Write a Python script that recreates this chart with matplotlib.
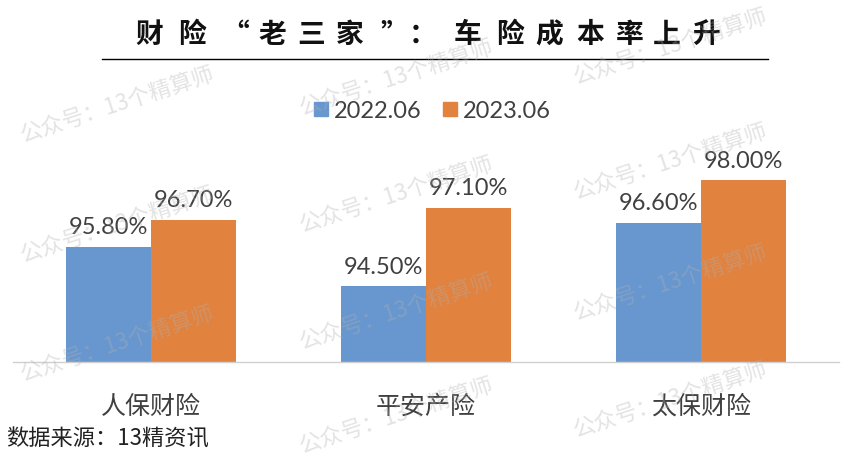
import matplotlib
matplotlib.use("Agg")
import matplotlib.pyplot as plt
from matplotlib.lines import Line2D
import numpy as np

plt.rcParams['font.family'] = ['Lato', 'Noto Sans CJK SC', 'DejaVu Sans']

# ---- data ----
categories = ['人保财险', '平安产险', '太保财险']
series_names = ['2022.06', '2023.06']
values_2022 = [95.8, 94.5, 96.6]
values_2023 = [96.7, 97.1, 98.0]
title_text = '财险“老三家”：车险成本率上升'
source_text = '数据来源：13精资讯'
watermark_text = '公众号：13个精算师'

BLUE = '#6897CF'
ORANGE = '#E1823F'
W, H = 856, 464

fig = plt.figure(figsize=(W / 100, H / 100), dpi=100)
fig.patch.set_facecolor('white')

def fx(px):
    return px / W

def fy(py):
    return 1 - py / H

# axes area: x 13..839 px, bottom at 363 px, top at 151 px
ax = fig.add_axes([fx(13), fy(363), fx(839) - fx(13), fy(151) - fy(363)])
x = np.arange(len(categories))
bw = 0.309
b1 = ax.bar(x - bw / 2, values_2022, bw, color=BLUE, zorder=2)
b2 = ax.bar(x + bw / 2, values_2023, bw, color=ORANGE, zorder=2)
ax.set_ylim(92, 99)
ax.set_xlim(-0.5, 2.5)
for s in ['top', 'left', 'right']:
    ax.spines[s].set_visible(False)
ax.spines['bottom'].set_color('#D0D0D0')
ax.spines['bottom'].set_linewidth(1.0)
ax.set_yticks([])
ax.set_xticks(x)
ax.set_xticklabels(categories, fontsize=18, color='#404040',
                   family=['Noto Sans CJK SC', 'DejaVu Sans'])
ax.tick_params(axis='x', length=0, pad=22)

for bars, vals in ((b1, values_2022), (b2, values_2023)):
    ax.bar_label(bars, labels=[f'{v:.2f}%' for v in vals], padding=7,
                 fontsize=17, color='#404040', family=['Lato', 'DejaVu Sans'])

# ---- title (spaced characters) ----
title_x = [149, 192, 235, 272, 311, 350, 394, 423, 468, 510, 549, 590, 630, 667, 706]
for ch, px in zip(title_text, title_x):
    fig.text(fx(px), fy(35), ch, ha='center', va='center', fontsize=20,
             fontweight='heavy', color='#111111',
             family=['Noto Sans CJK SC', 'DejaVu Sans'])
fig.add_artist(Line2D([fx(102), fx(768)], [fy(60), fy(60)], color='black', lw=1.0,
                      transform=fig.transFigure))

# ---- legend ----
handles = [Line2D([0], [0], marker='s', linestyle='none', markersize=10,
                  markerfacecolor=c, markeredgecolor=c) for c in (BLUE, ORANGE)]
fig.legend(handles, series_names, loc='center', bbox_to_anchor=(fx(432), fy(112)),
           ncol=2, frameon=False, fontsize=17, handlelength=0.6,
           handletextpad=0.25, columnspacing=0.9, labelcolor='#404040')

# ---- source ----
fig.text(fx(6), fy(439), source_text, ha='left', va='center', fontsize=16,
         color='#222222', family=['Noto Sans CJK SC', 'DejaVu Sans'])

# ---- watermarks (only those fully inside the picture) ----
wm_cols = {118: [105, 225, 344],
           397: [78, 195, 312, 416],
           671: [47, 162, 283, 400]}
for cx, ys in wm_cols.items():
    for cy in ys:
        fig.text(fx(cx), fy(cy), watermark_text, ha='center', va='center',
                 rotation=18, fontsize=16, color='#B0B0B0', alpha=0.35,
                 family=['Noto Sans CJK SC', 'DejaVu Sans'], zorder=10)

fig.savefig('out.png', dpi=100)
